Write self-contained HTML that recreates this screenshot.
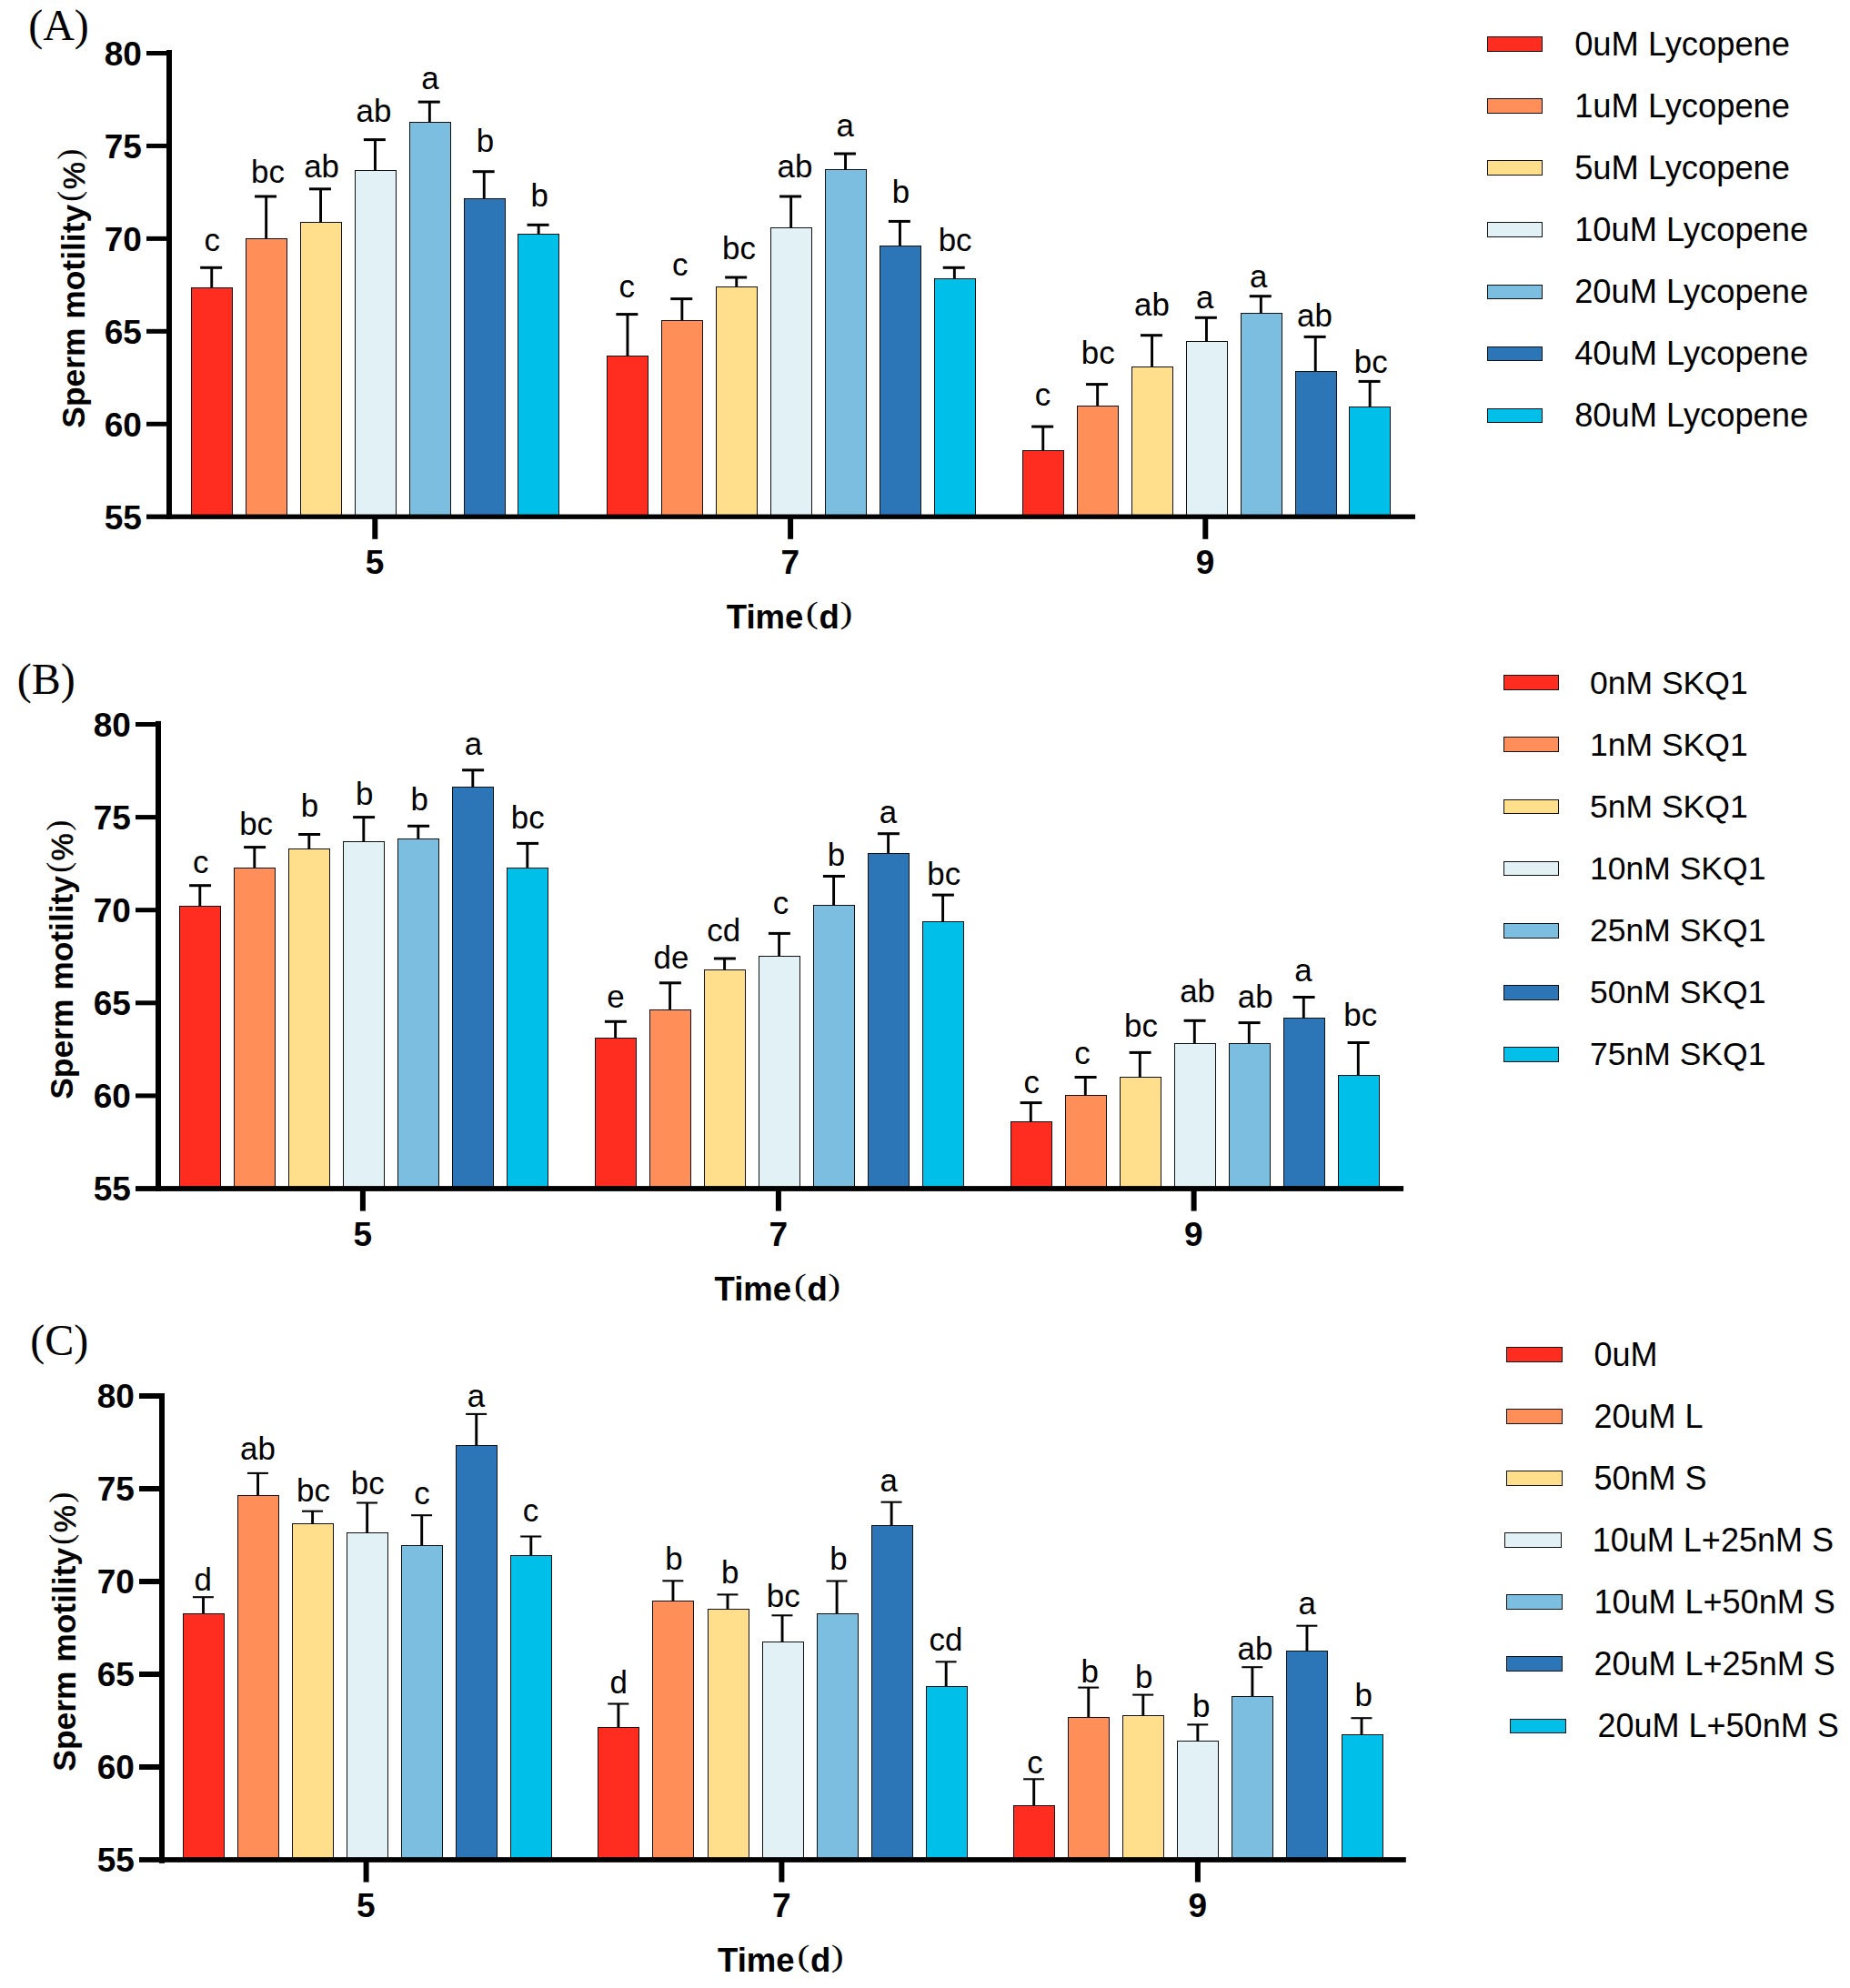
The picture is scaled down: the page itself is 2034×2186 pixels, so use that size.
<!DOCTYPE html>
<html lang="en"><head><meta charset="utf-8"><title>Sperm motility</title>
<style>html,body{margin:0;padding:0;background:#fff}svg{display:block}.tk{font:bold 37px "Liberation Sans", Arial, Helvetica, sans-serif;fill:#000}.lt{font:34.9px "Liberation Sans", Arial, Helvetica, sans-serif;fill:#000;text-anchor:middle}.pl{font:48px "Liberation Serif", "Times New Roman", Times, serif;fill:#000}.lg{font-family:"Liberation Sans", Arial, Helvetica, sans-serif;fill:#000}.b{stroke:#111;stroke-width:1;shape-rendering:crispEdges}.xt{font:bold 36.5px "Liberation Sans", Arial, Helvetica, sans-serif;fill:#000}.yt{font:bold 35.4px "Liberation Sans", Arial, Helvetica, sans-serif;fill:#000}.yp{font:34px "Liberation Sans", Arial, Helvetica, sans-serif;fill:#000;stroke:#000;stroke-width:.6}.pr2{font:36px "Liberation Serif", "Times New Roman", Times, serif;fill:#000;text-anchor:middle}.pr{font:34px "Liberation Serif", "Times New Roman", Times, serif;fill:#000;text-anchor:middle}.e{stroke:#000;fill:none}</style></head><body>
<svg width="2034" height="2186" viewBox="0 0 2034 2186">
<rect width="2034" height="2186" fill="#fff"/>
<g id="chartA">
<rect class="b" x="210.5" y="316.7" width="45" height="251.5" fill="#FF2D1F"/>
<path class="e" stroke-width="2.9" d="M232.75 316.7V294.3"/>
<path class="e" stroke-width="3" d="M220.15 294.3H244.15"/>
<text class="lt" x="233.2" y="276.4">c</text>
<rect class="b" x="270.4" y="262.8" width="45" height="305.4" fill="#FF8E58"/>
<path class="e" stroke-width="2.9" d="M292.65 262.8V216"/>
<path class="e" stroke-width="3" d="M280.05 216H304.05"/>
<text class="lt" x="294.5" y="201.3">bc</text>
<rect class="b" x="330.3" y="244.6" width="45" height="323.6" fill="#FFDF8C"/>
<path class="e" stroke-width="2.9" d="M352.55 244.6V207.8"/>
<path class="e" stroke-width="3" d="M339.95 207.8H363.95"/>
<text class="lt" x="353.6" y="195.1">ab</text>
<rect class="b" x="390.2" y="187.9" width="45" height="380.3" fill="#E1F1F5"/>
<path class="e" stroke-width="2.9" d="M412.45 187.9V153.6"/>
<path class="e" stroke-width="3" d="M399.85 153.6H423.85"/>
<text class="lt" x="411" y="133.5">ab</text>
<rect class="b" x="450.1" y="134.7" width="45" height="433.5" fill="#7BBEE0"/>
<path class="e" stroke-width="2.9" d="M472.35 134.7V112.1"/>
<path class="e" stroke-width="3" d="M459.75 112.1H483.75"/>
<text class="lt" x="472.9" y="97.9">a</text>
<rect class="b" x="510" y="218.7" width="45" height="349.5" fill="#2C75B6"/>
<path class="e" stroke-width="2.9" d="M532.25 218.7V188.7"/>
<path class="e" stroke-width="3" d="M519.65 188.7H543.65"/>
<text class="lt" x="533.4" y="166.5">b</text>
<rect class="b" x="569.9" y="257.8" width="45" height="310.4" fill="#00C0E9"/>
<path class="e" stroke-width="2.9" d="M592.15 257.8V247.3"/>
<path class="e" stroke-width="3" d="M579.55 247.3H603.55"/>
<text class="lt" x="593.3" y="227.2">b</text>
<rect class="b" x="667.7" y="391.8" width="45" height="176.4" fill="#FF2D1F"/>
<path class="e" stroke-width="2.9" d="M689.95 391.8V345.6"/>
<path class="e" stroke-width="3" d="M677.35 345.6H701.35"/>
<text class="lt" x="689.3" y="326.7">c</text>
<rect class="b" x="727.6" y="352" width="45" height="216.2" fill="#FF8E58"/>
<path class="e" stroke-width="2.9" d="M749.85 352V328.6"/>
<path class="e" stroke-width="3" d="M737.25 328.6H761.25"/>
<text class="lt" x="747.7" y="303">c</text>
<rect class="b" x="787.5" y="315.7" width="45" height="252.5" fill="#FFDF8C"/>
<path class="e" stroke-width="2.9" d="M809.75 315.7V305"/>
<path class="e" stroke-width="3" d="M797.15 305H821.15"/>
<text class="lt" x="812.5" y="285.4">bc</text>
<rect class="b" x="847.4" y="250.8" width="45" height="317.4" fill="#E1F1F5"/>
<path class="e" stroke-width="2.9" d="M869.65 250.8V216"/>
<path class="e" stroke-width="3" d="M857.05 216H881.05"/>
<text class="lt" x="873.9" y="194.9">ab</text>
<rect class="b" x="907.3" y="186.9" width="45" height="381.3" fill="#7BBEE0"/>
<path class="e" stroke-width="2.9" d="M929.55 186.9V169"/>
<path class="e" stroke-width="3" d="M916.95 169H940.95"/>
<text class="lt" x="929.2" y="150.4">a</text>
<rect class="b" x="967.2" y="270" width="45" height="298.2" fill="#2C75B6"/>
<path class="e" stroke-width="2.9" d="M989.45 270V243.4"/>
<path class="e" stroke-width="3" d="M976.85 243.4H1000.85"/>
<text class="lt" x="990.4" y="223">b</text>
<rect class="b" x="1027.1" y="306.8" width="45" height="261.4" fill="#00C0E9"/>
<path class="e" stroke-width="2.9" d="M1049.35 306.8V294.3"/>
<path class="e" stroke-width="3" d="M1036.75 294.3H1060.75"/>
<text class="lt" x="1050.1" y="276.4">bc</text>
<rect class="b" x="1124.5" y="495" width="45" height="73.2" fill="#FF2D1F"/>
<path class="e" stroke-width="2.9" d="M1146.75 495V469.1"/>
<path class="e" stroke-width="3" d="M1134.15 469.1H1158.15"/>
<text class="lt" x="1146.5" y="446.3">c</text>
<rect class="b" x="1184.4" y="446.5" width="45" height="121.7" fill="#FF8E58"/>
<path class="e" stroke-width="2.9" d="M1206.65 446.5V422.6"/>
<path class="e" stroke-width="3" d="M1194.05 422.6H1218.05"/>
<text class="lt" x="1207.2" y="400.3">bc</text>
<rect class="b" x="1244.3" y="403" width="45" height="165.2" fill="#FFDF8C"/>
<path class="e" stroke-width="2.9" d="M1266.55 403V368.7"/>
<path class="e" stroke-width="3" d="M1253.95 368.7H1277.95"/>
<text class="lt" x="1266.5" y="347.3">ab</text>
<rect class="b" x="1304.2" y="375.7" width="45" height="192.5" fill="#E1F1F5"/>
<path class="e" stroke-width="2.9" d="M1326.45 375.7V349.3"/>
<path class="e" stroke-width="3" d="M1313.85 349.3H1337.85"/>
<text class="lt" x="1324.7" y="339.3">a</text>
<rect class="b" x="1364.1" y="344.8" width="45" height="223.4" fill="#7BBEE0"/>
<path class="e" stroke-width="2.9" d="M1386.35 344.8V325.7"/>
<path class="e" stroke-width="3" d="M1373.75 325.7H1397.75"/>
<text class="lt" x="1383.8" y="315.7">a</text>
<rect class="b" x="1424" y="408" width="45" height="160.2" fill="#2C75B6"/>
<path class="e" stroke-width="2.9" d="M1446.25 408V370.4"/>
<path class="e" stroke-width="3" d="M1433.65 370.4H1457.65"/>
<text class="lt" x="1445.4" y="358.5">ab</text>
<rect class="b" x="1483.9" y="447.8" width="45" height="120.4" fill="#00C0E9"/>
<path class="e" stroke-width="2.9" d="M1506.15 447.8V419.4"/>
<path class="e" stroke-width="3" d="M1493.55 419.4H1517.55"/>
<text class="lt" x="1507.3" y="409.5">bc</text>
<rect x="183" y="55" width="6" height="515.85" fill="#000"/>
<rect x="161" y="565.55" width="1395" height="5.3" fill="#000"/>
<rect x="161" y="56" width="23" height="5" fill="#000"/>
<text class="tk" text-anchor="end" x="155.9" y="71.85">80</text>
<rect x="161" y="157.94" width="23" height="5" fill="#000"/>
<text class="tk" text-anchor="end" x="155.9" y="173.79">75</text>
<rect x="161" y="259.88" width="23" height="5" fill="#000"/>
<text class="tk" text-anchor="end" x="155.9" y="275.73">70</text>
<rect x="161" y="361.82" width="23" height="5" fill="#000"/>
<text class="tk" text-anchor="end" x="155.9" y="377.67">65</text>
<rect x="161" y="463.76" width="23" height="5" fill="#000"/>
<text class="tk" text-anchor="end" x="155.9" y="479.61">60</text>
<text class="tk" text-anchor="end" x="155.9" y="581.55">55</text>
<rect x="409.3" y="568.2" width="6" height="24.6" fill="#000"/>
<text class="tk" text-anchor="middle" x="412.1" y="631">5</text>
<rect x="866.1" y="568.2" width="6" height="24.6" fill="#000"/>
<text class="tk" text-anchor="middle" x="868.9" y="631">7</text>
<rect x="1322.3" y="568.2" width="6" height="24.6" fill="#000"/>
<text class="tk" text-anchor="middle" x="1325.1" y="631">9</text>
<text class="xt" x="798.8" y="690.9">Time</text>
<text class="xt" x="900.6" y="690.9">d</text>
<text class="pr" transform="translate(893 685.3) scale(1.22 1)">(</text>
<text class="pr" transform="translate(930.4 685.3) scale(1.22 1)">)</text>
<g transform="translate(93 470.7) rotate(-90)">
<text class="yt" x="0" y="0">Sperm motility</text>
<text class="pr2" x="255" y="-4.6">(</text>
<text class="yp" x="262.4" y="0">%</text>
<text class="pr2" x="301" y="-4.6">)</text>
</g>
<text class="pl" x="31.2" y="44">(A)</text>
<rect class="b" x="1635.8" y="40.65" width="60" height="15.5" fill="#FF2D1F"/>
<text class="lg" x="1731.2" y="60.5" font-size="36.3">0uM Lycopene</text>
<rect class="b" x="1635.8" y="108.75" width="60" height="15.5" fill="#FF8E58"/>
<text class="lg" x="1731.2" y="128.6" font-size="36.3">1uM Lycopene</text>
<rect class="b" x="1635.8" y="176.85" width="60" height="15.5" fill="#FFDF8C"/>
<text class="lg" x="1731.2" y="196.7" font-size="36.3">5uM Lycopene</text>
<rect class="b" x="1635.8" y="244.95" width="60" height="15.5" fill="#E1F1F5"/>
<text class="lg" x="1731.2" y="264.8" font-size="36.3">10uM Lycopene</text>
<rect class="b" x="1635.8" y="313.05" width="60" height="15.5" fill="#7BBEE0"/>
<text class="lg" x="1731.2" y="332.9" font-size="36.3">20uM Lycopene</text>
<rect class="b" x="1635.8" y="381.15" width="60" height="15.5" fill="#2C75B6"/>
<text class="lg" x="1731.2" y="401" font-size="36.3">40uM Lycopene</text>
<rect class="b" x="1635.8" y="449.25" width="60" height="15.5" fill="#00C0E9"/>
<text class="lg" x="1731.2" y="469.1" font-size="36.3">80uM Lycopene</text>
</g>
<g id="chartB">
<rect class="b" x="197.9" y="996.8" width="45" height="310.2" fill="#FF2D1F"/>
<path class="e" stroke-width="2.9" d="M219.8 996.8V973.7"/>
<path class="e" stroke-width="3" d="M208.1 973.7H232.1"/>
<text class="lt" x="220.7" y="960.2">c</text>
<rect class="b" x="257.9" y="954" width="45" height="353" fill="#FF8E58"/>
<path class="e" stroke-width="2.9" d="M279.8 954V931.6"/>
<path class="e" stroke-width="3" d="M268.1 931.6H292.1"/>
<text class="lt" x="281.6" y="918.2">bc</text>
<rect class="b" x="317.9" y="933.9" width="45" height="373.1" fill="#FFDF8C"/>
<path class="e" stroke-width="2.9" d="M339.8 933.9V917.5"/>
<path class="e" stroke-width="3" d="M328.1 917.5H352.1"/>
<text class="lt" x="340.4" y="898.1">b</text>
<rect class="b" x="377.9" y="925.9" width="45" height="381.1" fill="#E1F1F5"/>
<path class="e" stroke-width="2.9" d="M399.8 925.9V898.6"/>
<path class="e" stroke-width="3" d="M388.1 898.6H412.1"/>
<text class="lt" x="400.6" y="885.1">b</text>
<rect class="b" x="437.9" y="922.4" width="45" height="384.6" fill="#7BBEE0"/>
<path class="e" stroke-width="2.9" d="M459.8 922.4V908.3"/>
<path class="e" stroke-width="3" d="M448.1 908.3H472.1"/>
<text class="lt" x="461.1" y="891.4">b</text>
<rect class="b" x="497.9" y="865.7" width="45" height="441.3" fill="#2C75B6"/>
<path class="e" stroke-width="2.9" d="M519.8 865.7V846.8"/>
<path class="e" stroke-width="3" d="M508.1 846.8H532.1"/>
<text class="lt" x="520.4" y="830.4">a</text>
<rect class="b" x="557.9" y="954" width="45" height="353" fill="#00C0E9"/>
<path class="e" stroke-width="2.9" d="M579.8 954V927.4"/>
<path class="e" stroke-width="3" d="M568.1 927.4H592.1"/>
<text class="lt" x="580.2" y="910.7">bc</text>
<rect class="b" x="654.7" y="1141" width="45" height="166" fill="#FF2D1F"/>
<path class="e" stroke-width="2.9" d="M676.6 1141V1123.3"/>
<path class="e" stroke-width="3" d="M664.9 1123.3H688.9"/>
<text class="lt" x="676.9" y="1108.4">e</text>
<rect class="b" x="714.7" y="1110.9" width="45" height="196.1" fill="#FF8E58"/>
<path class="e" stroke-width="2.9" d="M736.6 1110.9V1080.8"/>
<path class="e" stroke-width="3" d="M724.9 1080.8H748.9"/>
<text class="lt" x="738" y="1065.2">de</text>
<rect class="b" x="774.7" y="1066.7" width="45" height="240.3" fill="#FFDF8C"/>
<path class="e" stroke-width="2.9" d="M796.6 1066.7V1054"/>
<path class="e" stroke-width="3" d="M784.9 1054H808.9"/>
<text class="lt" x="795.8" y="1034.8">cd</text>
<rect class="b" x="834.7" y="1051.7" width="45" height="255.3" fill="#E1F1F5"/>
<path class="e" stroke-width="2.9" d="M856.6 1051.7V1026.4"/>
<path class="e" stroke-width="3" d="M844.9 1026.4H868.9"/>
<text class="lt" x="858.4" y="1004.5">c</text>
<rect class="b" x="894.7" y="995.8" width="45" height="311.2" fill="#7BBEE0"/>
<path class="e" stroke-width="2.9" d="M916.6 995.8V963.5"/>
<path class="e" stroke-width="3" d="M904.9 963.5H928.9"/>
<text class="lt" x="919.4" y="952.3">b</text>
<rect class="b" x="954.7" y="938.8" width="45" height="368.2" fill="#2C75B6"/>
<path class="e" stroke-width="2.9" d="M976.6 938.8V916.7"/>
<path class="e" stroke-width="3" d="M964.9 916.7H988.9"/>
<text class="lt" x="976.4" y="904.5">a</text>
<rect class="b" x="1014.7" y="1013.9" width="45" height="293.1" fill="#00C0E9"/>
<path class="e" stroke-width="2.9" d="M1036.6 1013.9V984.1"/>
<path class="e" stroke-width="3" d="M1024.9 984.1H1048.9"/>
<text class="lt" x="1037.8" y="973.4">bc</text>
<rect class="b" x="1111.4" y="1233.7" width="45" height="73.3" fill="#FF2D1F"/>
<path class="e" stroke-width="2.9" d="M1133.3 1233.7V1212.6"/>
<path class="e" stroke-width="3" d="M1121.6 1212.6H1145.6"/>
<text class="lt" x="1134.2" y="1202.2">c</text>
<rect class="b" x="1171.4" y="1204.9" width="45" height="102.1" fill="#FF8E58"/>
<path class="e" stroke-width="2.9" d="M1193.3 1204.9V1184.5"/>
<path class="e" stroke-width="3" d="M1181.6 1184.5H1205.6"/>
<text class="lt" x="1190.1" y="1169.8">c</text>
<rect class="b" x="1231.4" y="1184.8" width="45" height="122.2" fill="#FFDF8C"/>
<path class="e" stroke-width="2.9" d="M1253.3 1184.8V1157.4"/>
<path class="e" stroke-width="3" d="M1241.6 1157.4H1265.6"/>
<text class="lt" x="1254.5" y="1139.5">bc</text>
<rect class="b" x="1291.4" y="1147" width="45" height="160" fill="#E1F1F5"/>
<path class="e" stroke-width="2.9" d="M1313.3 1147V1122.3"/>
<path class="e" stroke-width="3" d="M1301.6 1122.3H1325.6"/>
<text class="lt" x="1316.6" y="1102.2">ab</text>
<rect class="b" x="1351.4" y="1147" width="45" height="160" fill="#7BBEE0"/>
<path class="e" stroke-width="2.9" d="M1373.3 1147V1124.6"/>
<path class="e" stroke-width="3" d="M1361.6 1124.6H1385.6"/>
<text class="lt" x="1380.2" y="1108.4">ab</text>
<rect class="b" x="1411.4" y="1119.9" width="45" height="187.1" fill="#2C75B6"/>
<path class="e" stroke-width="2.9" d="M1433.3 1119.9V1096.5"/>
<path class="e" stroke-width="3" d="M1421.6 1096.5H1445.6"/>
<text class="lt" x="1432.9" y="1079.1">a</text>
<rect class="b" x="1471.4" y="1182.8" width="45" height="124.2" fill="#00C0E9"/>
<path class="e" stroke-width="2.9" d="M1493.3 1182.8V1146.5"/>
<path class="e" stroke-width="3" d="M1481.6 1146.5H1505.6"/>
<text class="lt" x="1495.7" y="1128.3">bc</text>
<rect x="171" y="792.9" width="6" height="517" fill="#000"/>
<rect x="149" y="1304.1" width="1394.1" height="5.8" fill="#000"/>
<rect x="149" y="794" width="23" height="5" fill="#000"/>
<text class="tk" text-anchor="end" x="143.9" y="809.85">80</text>
<rect x="149" y="896.1" width="23" height="5" fill="#000"/>
<text class="tk" text-anchor="end" x="143.9" y="911.95">75</text>
<rect x="149" y="998.2" width="23" height="5" fill="#000"/>
<text class="tk" text-anchor="end" x="143.9" y="1014.05">70</text>
<rect x="149" y="1100.3" width="23" height="5" fill="#000"/>
<text class="tk" text-anchor="end" x="143.9" y="1116.15">65</text>
<rect x="149" y="1202.4" width="23" height="5" fill="#000"/>
<text class="tk" text-anchor="end" x="143.9" y="1218.25">60</text>
<text class="tk" text-anchor="end" x="143.9" y="1320.35">55</text>
<rect x="395.9" y="1307" width="6" height="24.6" fill="#000"/>
<text class="tk" text-anchor="middle" x="398.7" y="1369.8">5</text>
<rect x="852.9" y="1307" width="6" height="24.6" fill="#000"/>
<text class="tk" text-anchor="middle" x="855.7" y="1369.8">7</text>
<rect x="1309.6" y="1307" width="6" height="24.6" fill="#000"/>
<text class="tk" text-anchor="middle" x="1312.4" y="1369.8">9</text>
<text class="xt" x="785.6" y="1429.7">Time</text>
<text class="xt" x="887.4" y="1429.7">d</text>
<text class="pr" transform="translate(879.8 1424.1) scale(1.22 1)">(</text>
<text class="pr" transform="translate(917.2 1424.1) scale(1.22 1)">)</text>
<g transform="translate(80.15 1208.8) rotate(-90)">
<text class="yt" x="0" y="0">Sperm motility</text>
<text class="pr2" x="255" y="-4.6">(</text>
<text class="yp" x="262.4" y="0">%</text>
<text class="pr2" x="301" y="-4.6">)</text>
</g>
<text class="pl" x="18.8" y="763.2">(B)</text>
<rect class="b" x="1653" y="742.8" width="60.5" height="15.8" fill="#FF2D1F"/>
<text class="lg" x="1748" y="762.7" font-size="35.5">0nM SKQ1</text>
<rect class="b" x="1653" y="810.9" width="60.5" height="15.8" fill="#FF8E58"/>
<text class="lg" x="1748" y="830.8" font-size="35.5">1nM SKQ1</text>
<rect class="b" x="1653" y="879" width="60.5" height="15.8" fill="#FFDF8C"/>
<text class="lg" x="1748" y="898.9" font-size="35.5">5nM SKQ1</text>
<rect class="b" x="1653" y="947.1" width="60.5" height="15.8" fill="#E1F1F5"/>
<text class="lg" x="1748" y="967" font-size="35.5">10nM SKQ1</text>
<rect class="b" x="1653" y="1015.2" width="60.5" height="15.8" fill="#7BBEE0"/>
<text class="lg" x="1748" y="1035.1" font-size="35.5">25nM SKQ1</text>
<rect class="b" x="1653" y="1083.3" width="60.5" height="15.8" fill="#2C75B6"/>
<text class="lg" x="1748" y="1103.2" font-size="35.5">50nM SKQ1</text>
<rect class="b" x="1653" y="1151.4" width="60.5" height="15.8" fill="#00C0E9"/>
<text class="lg" x="1748" y="1171.3" font-size="35.5">75nM SKQ1</text>
</g>
<g id="chartC">
<rect class="b" x="201.5" y="1774.8" width="45" height="270.2" fill="#FF2D1F"/>
<path class="e" stroke-width="2.9" d="M223.5 1774.8V1756.2"/>
<path class="e" stroke-width="2.05" d="M211.9 1756.2H234.9"/>
<text class="lt" x="223.1" y="1748.7">d</text>
<rect class="b" x="261.55" y="1644.3" width="45" height="400.7" fill="#FF8E58"/>
<path class="e" stroke-width="2.9" d="M283.55 1644.3V1619.9"/>
<path class="e" stroke-width="2.05" d="M271.95 1619.9H294.95"/>
<text class="lt" x="283.5" y="1605.2">ab</text>
<rect class="b" x="321.6" y="1675.9" width="45" height="369.1" fill="#FFDF8C"/>
<path class="e" stroke-width="2.9" d="M343.6 1675.9V1661.7"/>
<path class="e" stroke-width="2.05" d="M332 1661.7H355"/>
<text class="lt" x="344.5" y="1651.2">bc</text>
<rect class="b" x="381.65" y="1685.8" width="45" height="359.2" fill="#E1F1F5"/>
<path class="e" stroke-width="2.9" d="M403.65 1685.8V1652.5"/>
<path class="e" stroke-width="2.05" d="M392.05 1652.5H415.05"/>
<text class="lt" x="404.3" y="1643">bc</text>
<rect class="b" x="441.7" y="1699.7" width="45" height="345.3" fill="#7BBEE0"/>
<path class="e" stroke-width="2.9" d="M463.7 1699.7V1666.2"/>
<path class="e" stroke-width="2.05" d="M452.1 1666.2H475.1"/>
<text class="lt" x="463.9" y="1654.2">c</text>
<rect class="b" x="501.75" y="1589.6" width="45" height="455.4" fill="#2C75B6"/>
<path class="e" stroke-width="2.9" d="M523.75 1589.6V1554.9"/>
<path class="e" stroke-width="2.05" d="M512.15 1554.9H535.15"/>
<text class="lt" x="523.4" y="1547">a</text>
<rect class="b" x="561.8" y="1710.7" width="45" height="334.3" fill="#00C0E9"/>
<path class="e" stroke-width="2.9" d="M583.8 1710.7V1689.5"/>
<path class="e" stroke-width="2.05" d="M572.2 1689.5H595.2"/>
<text class="lt" x="583.6" y="1673.4">c</text>
<rect class="b" x="657.9" y="1899.9" width="45" height="145.1" fill="#FF2D1F"/>
<path class="e" stroke-width="2.9" d="M679.9 1899.9V1873.5"/>
<path class="e" stroke-width="2.05" d="M668.3 1873.5H691.3"/>
<text class="lt" x="680.1" y="1862.3">d</text>
<rect class="b" x="717.95" y="1760.9" width="45" height="284.1" fill="#FF8E58"/>
<path class="e" stroke-width="2.9" d="M739.95 1760.9V1738.3"/>
<path class="e" stroke-width="2.05" d="M728.35 1738.3H751.35"/>
<text class="lt" x="741" y="1726.3">b</text>
<rect class="b" x="778" y="1769.8" width="45" height="275.2" fill="#FFDF8C"/>
<path class="e" stroke-width="2.9" d="M800 1769.8V1753.4"/>
<path class="e" stroke-width="2.05" d="M788.4 1753.4H811.4"/>
<text class="lt" x="802.6" y="1740.5">b</text>
<rect class="b" x="838.05" y="1805.6" width="45" height="239.4" fill="#E1F1F5"/>
<path class="e" stroke-width="2.9" d="M860.05 1805.6V1776.3"/>
<path class="e" stroke-width="2.05" d="M848.45 1776.3H871.45"/>
<text class="lt" x="861.3" y="1766.9">bc</text>
<rect class="b" x="898.1" y="1774.1" width="45" height="270.9" fill="#7BBEE0"/>
<path class="e" stroke-width="2.9" d="M920.1 1774.1V1738.5"/>
<path class="e" stroke-width="2.05" d="M908.5 1738.5H931.5"/>
<text class="lt" x="921.9" y="1726.3">b</text>
<rect class="b" x="958.15" y="1677.8" width="45" height="367.2" fill="#2C75B6"/>
<path class="e" stroke-width="2.9" d="M980.15 1677.8V1651.7"/>
<path class="e" stroke-width="2.05" d="M968.55 1651.7H991.55"/>
<text class="lt" x="977.2" y="1639.8">a</text>
<rect class="b" x="1018.2" y="1854.9" width="45" height="190.1" fill="#00C0E9"/>
<path class="e" stroke-width="2.9" d="M1040.2 1854.9V1827.3"/>
<path class="e" stroke-width="2.05" d="M1028.6 1827.3H1051.6"/>
<text class="lt" x="1039.9" y="1815.3">cd</text>
<rect class="b" x="1114.7" y="1985.9" width="45" height="59.1" fill="#FF2D1F"/>
<path class="e" stroke-width="2.9" d="M1136.7 1985.9V1956.3"/>
<path class="e" stroke-width="2.05" d="M1125.1 1956.3H1148.1"/>
<text class="lt" x="1137.9" y="1949.6">c</text>
<rect class="b" x="1174.75" y="1888" width="45" height="157" fill="#FF8E58"/>
<path class="e" stroke-width="2.9" d="M1196.75 1888V1855.6"/>
<path class="e" stroke-width="2.05" d="M1185.15 1855.6H1208.15"/>
<text class="lt" x="1198.1" y="1850.2">b</text>
<rect class="b" x="1234.8" y="1886" width="45" height="159" fill="#FFDF8C"/>
<path class="e" stroke-width="2.9" d="M1256.8 1886V1863.6"/>
<path class="e" stroke-width="2.05" d="M1245.2 1863.6H1268.2"/>
<text class="lt" x="1257.6" y="1856.1">b</text>
<rect class="b" x="1294.85" y="1914.8" width="45" height="130.2" fill="#E1F1F5"/>
<path class="e" stroke-width="2.9" d="M1316.85 1914.8V1896.4"/>
<path class="e" stroke-width="2.05" d="M1305.25 1896.4H1328.25"/>
<text class="lt" x="1320.7" y="1888">b</text>
<rect class="b" x="1354.9" y="1865.1" width="45" height="179.9" fill="#7BBEE0"/>
<path class="e" stroke-width="2.9" d="M1376.9 1865.1V1833.2"/>
<path class="e" stroke-width="2.05" d="M1365.3 1833.2H1388.3"/>
<text class="lt" x="1380" y="1824.5">ab</text>
<rect class="b" x="1414.95" y="1815.1" width="45" height="229.9" fill="#2C75B6"/>
<path class="e" stroke-width="2.9" d="M1436.95 1815.1V1787.7"/>
<path class="e" stroke-width="2.05" d="M1425.35 1787.7H1448.35"/>
<text class="lt" x="1437.2" y="1774.8">a</text>
<rect class="b" x="1475" y="1907.8" width="45" height="137.2" fill="#00C0E9"/>
<path class="e" stroke-width="2.9" d="M1497 1907.8V1889.2"/>
<path class="e" stroke-width="2.05" d="M1485.4 1889.2H1508.4"/>
<text class="lt" x="1499.1" y="1876">b</text>
<rect x="175" y="1532" width="6" height="516.85" fill="#000"/>
<rect x="153" y="2042.15" width="1392.8" height="5.7" fill="#000"/>
<rect x="153" y="1532" width="23" height="6" fill="#000"/>
<text class="tk" text-anchor="end" x="147.9" y="1548.35">80</text>
<rect x="153" y="1634" width="23" height="6" fill="#000"/>
<text class="tk" text-anchor="end" x="147.9" y="1650.35">75</text>
<rect x="153" y="1736" width="23" height="6" fill="#000"/>
<text class="tk" text-anchor="end" x="147.9" y="1752.35">70</text>
<rect x="153" y="1838" width="23" height="6" fill="#000"/>
<text class="tk" text-anchor="end" x="147.9" y="1854.35">65</text>
<rect x="153" y="1940" width="23" height="6" fill="#000"/>
<text class="tk" text-anchor="end" x="147.9" y="1956.35">60</text>
<text class="tk" text-anchor="end" x="147.9" y="2058.35">55</text>
<rect x="399.6" y="2045" width="6" height="24.6" fill="#000"/>
<text class="tk" text-anchor="middle" x="402.4" y="2107.8">5</text>
<rect x="856.4" y="2045" width="6" height="24.6" fill="#000"/>
<text class="tk" text-anchor="middle" x="859.2" y="2107.8">7</text>
<rect x="1313.9" y="2045" width="6" height="24.6" fill="#000"/>
<text class="tk" text-anchor="middle" x="1316.7" y="2107.8">9</text>
<text class="xt" x="789.1" y="2167.7">Time</text>
<text class="xt" x="890.9" y="2167.7">d</text>
<text class="pr" transform="translate(883.3 2162.1) scale(1.22 1)">(</text>
<text class="pr" transform="translate(920.7 2162.1) scale(1.22 1)">)</text>
<g transform="translate(83.1 1947.7) rotate(-90)">
<text class="yt" x="0" y="0">Sperm motility</text>
<text class="pr2" x="255" y="-4.6">(</text>
<text class="yp" x="262.4" y="0">%</text>
<text class="pr2" x="301" y="-4.6">)</text>
</g>
<text class="pl" x="33.3" y="1489.8">(C)</text>
<rect class="b" x="1656.2" y="1481.4" width="61.6" height="15.8" fill="#FF2D1F"/>
<text class="lg" x="1752.5" y="1501.6" font-size="36">0uM</text>
<rect class="b" x="1656.2" y="1549.5" width="61.6" height="15.8" fill="#FF8E58"/>
<text class="lg" x="1752.5" y="1569.7" font-size="36">20uM L</text>
<rect class="b" x="1656.2" y="1617.6" width="61.6" height="15.8" fill="#FFDF8C"/>
<text class="lg" x="1752.5" y="1637.8" font-size="36">50nM S</text>
<rect class="b" x="1654.5" y="1685.7" width="61.6" height="15.8" fill="#E1F1F5"/>
<text class="lg" x="1750.8" y="1705.9" font-size="36">10uM L+25nM S</text>
<rect class="b" x="1656.2" y="1753.8" width="61.6" height="15.8" fill="#7BBEE0"/>
<text class="lg" x="1752.5" y="1774" font-size="36">10uM L+50nM S</text>
<rect class="b" x="1656.2" y="1821.9" width="61.6" height="15.8" fill="#2C75B6"/>
<text class="lg" x="1752.5" y="1842.1" font-size="36">20uM L+25nM S</text>
<rect class="b" x="1660.2" y="1890" width="61.6" height="15.8" fill="#00C0E9"/>
<text class="lg" x="1756.5" y="1910.2" font-size="36">20uM L+50nM S</text>
</g>
</svg></body></html>
